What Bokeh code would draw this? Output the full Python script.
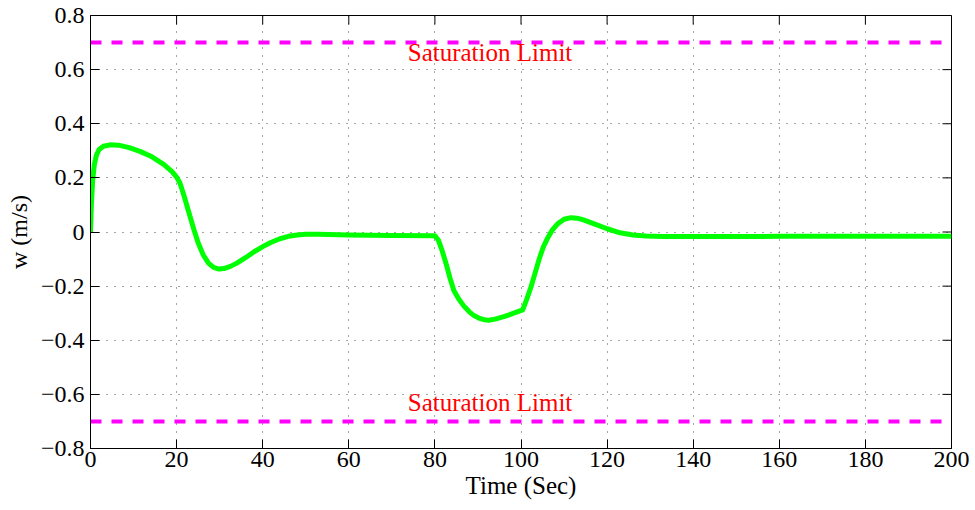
from bokeh.plotting import figure
from bokeh.models import Range1d, FixedTicker
from bokeh.embed import file_html
from bokeh.resources import INLINE
from bokeh.core.properties import value

# ---- data ----
time = [0, 0.2, 0.5, 0.9, 1.4, 2, 3, 4.5, 6.5, 9, 11.5, 14, 17, 19, 20, 20.8,
        21.8, 22.8, 24, 25, 26.2, 27.4, 28.6, 29.8, 31, 32.5, 34, 36, 38, 40,
        42, 44, 46, 48, 50, 53, 60, 70, 80, 80.8, 81.7, 82.6, 83.5, 84.4, 85.5,
        86.7, 88, 89, 90.2, 91.4, 92.5, 94, 96, 98, 100.4, 101.3, 102.3, 103.3,
        104.3, 105.2, 106.2, 107.3, 108.5, 110, 111.6, 113, 114.5, 117, 120,
        123, 126, 129, 133, 140, 160, 180, 200]
w = [0, 0.10, 0.19, 0.25, 0.285, 0.305, 0.317, 0.322, 0.321, 0.312, 0.298, 0.28,
     0.25, 0.222, 0.203, 0.18, 0.13, 0.075, 0.01, -0.04, -0.085, -0.115, -0.131,
     -0.137, -0.135, -0.127, -0.115, -0.095, -0.073, -0.054, -0.038, -0.025,
     -0.016, -0.011, -0.008, -0.008, -0.011, -0.013, -0.014, -0.03, -0.07,
     -0.117, -0.17, -0.216, -0.247, -0.273, -0.295, -0.308, -0.318, -0.324,
     -0.326, -0.322, -0.313, -0.302, -0.288, -0.25, -0.204, -0.15, -0.096,
     -0.055, -0.022, 0.008, 0.03, 0.047, 0.053, 0.051, 0.045, 0.03, 0.012,
     -0.003, -0.011, -0.015, -0.017, -0.017, -0.016, -0.016, -0.016]

sat_upper = 0.7
sat_lower = -0.7
sat_label = "Saturation Limit"

x_ticks = [0, 20, 40, 60, 80, 100, 120, 140, 160, 180, 200]
y_ticks = [-0.8, -0.6, -0.4, -0.2, 0, 0.2, 0.4, 0.6, 0.8]
y_tick_labels = ["\u22120.8", "\u22120.6", "\u22120.4", "\u22120.2", "0",
                 "0.2", "0.4", "0.6", "0.8"]

X0, X1 = 0, 200
Y0, Y1 = -0.8, 0.8
FONT = "Liberation Serif"

FRAME_W, FRAME_H = 861, 433
p = figure(width=975, height=510, output_backend="svg", toolbar_location=None,
           x_range=Range1d(X0, X1), y_range=Range1d(Y0, Y1),
           min_border_left=90, min_border_right=24, min_border_top=15,
           min_border_bottom=62)
p.background_fill_color = "white"
p.border_fill_color = "white"
p.outline_line_color = "black"
p.outline_line_width = 1

# axes
p.xaxis.ticker = FixedTicker(ticks=x_ticks)
p.yaxis.ticker = FixedTicker(ticks=y_ticks)
p.yaxis.major_label_overrides = {t: l for t, l in zip(y_ticks, y_tick_labels)}
p.xaxis.axis_label = "Time (Sec)"
p.yaxis.axis_label = "w (m/s)"

for axes in (p.xaxis, p.yaxis):
    axes.major_label_text_font = FONT
    axes.major_label_text_font_size = "24px"
    axes.major_label_text_font_style = "normal"
    axes.major_label_text_color = "black"
    axes.axis_label_text_font = FONT
    axes.axis_label_text_font_style = "normal"
    axes.axis_label_text_color = "black"
    axes.major_tick_in = 9
    axes.major_tick_out = 0
    axes.minor_tick_in = 0
    axes.minor_tick_out = 0
    axes.axis_line_color = "black"
    axes.major_tick_line_color = "black"

p.xaxis.axis_label_text_font_size = "25px"
p.yaxis.axis_label_text_font_size = "24px"
p.xaxis.major_label_standoff = 3
p.yaxis.major_label_standoff = 6
p.xaxis.axis_label_standoff = 2
p.yaxis.axis_label_standoff = 6

# mirrored tick marks on top and right edges (9 px long, pointing inward)
tick_len_y = 9 * (Y1 - Y0) / FRAME_H
tick_len_x = 9 * (X1 - X0) / FRAME_W
p.segment(x0=x_ticks, y0=[Y1] * len(x_ticks), x1=x_ticks,
          y1=[Y1 - tick_len_y] * len(x_ticks), line_color="black", line_width=1)
p.segment(x0=[X1] * len(y_ticks), y0=y_ticks, x1=[X1 - tick_len_x] * len(y_ticks),
          y1=y_ticks, line_color="black", line_width=1)

# grid
p.xgrid.ticker = FixedTicker(ticks=x_ticks)
p.ygrid.ticker = FixedTicker(ticks=y_ticks)
for g in (p.xgrid, p.ygrid):
    g.grid_line_color = "#222222"
    g.grid_line_alpha = 0.8
    g.grid_line_dash = "1 7"
    g.grid_line_width = 1

# saturation limits
p.line([X0, X1], [sat_upper, sat_upper], line_color="#ff00ff", line_width=4,
       line_dash="11 10")
p.line([X0, X1], [sat_lower, sat_lower], line_color="#ff00ff", line_width=4,
       line_dash="11 10")

p.text(x=[92.8, 92.8], y=[0.663, -0.630], text=[sat_label, sat_label],
       text_font=value(FONT), text_font_size="25px", text_color="#ff0000",
       text_align="center", text_baseline="middle")

# response
p.line(time, w, line_color="#00ff00", line_width=5, line_join="round")

open("out.html", "w").write(file_html(p, INLINE))
